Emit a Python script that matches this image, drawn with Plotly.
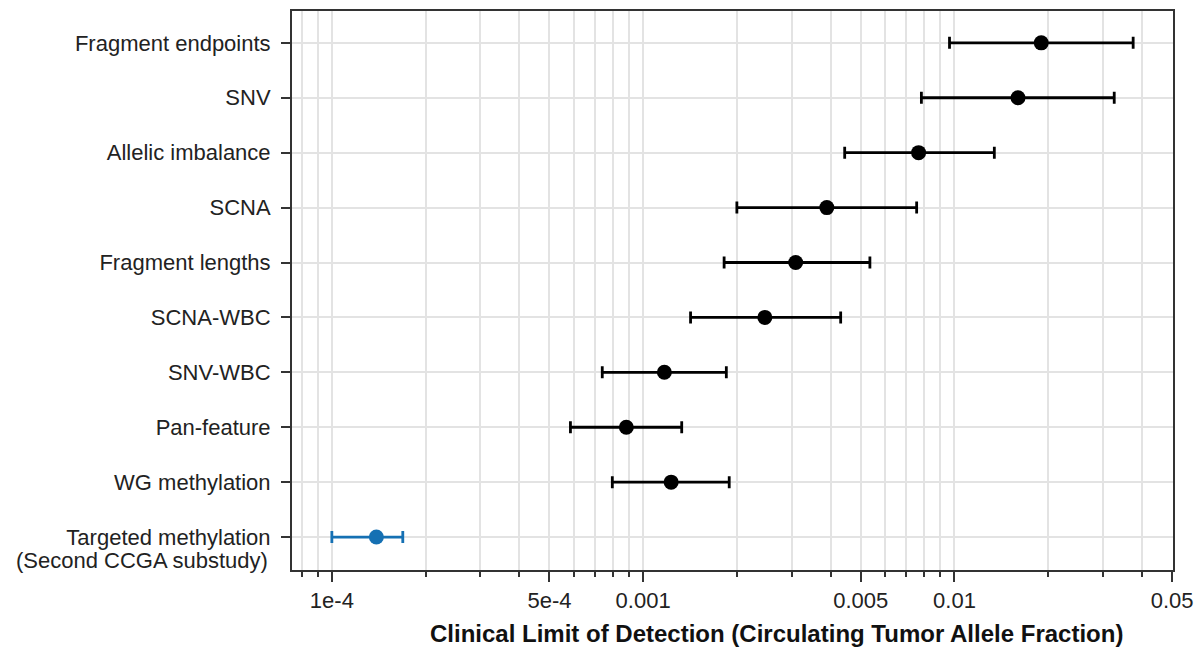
import plotly.graph_objects as go

categories = ["Fragment endpoints", "SNV", "Allelic imbalance", "SCNA", "Fragment lengths",
              "SCNA-WBC", "SNV-WBC", "Pan-feature", "WG methylation",
              "Targeted methylation<br>(Second CCGA substudy)"]
lod = [0.0190, 0.0160, 0.00767, 0.00389, 0.00309, 0.00246, 0.00117, 0.000883, 0.00123, 0.000139]
lower = [0.00964, 0.00783, 0.00444, 0.00200, 0.00182, 0.00142, 0.000739, 0.000584, 0.000796, 0.000100]
upper = [0.0375, 0.0326, 0.01343, 0.00756, 0.00535, 0.00431, 0.00185, 0.00133, 0.00189, 0.000169]

major_ticks = [1e-4, 5e-4, 0.001, 0.005, 0.01, 0.05]
major_text = ["1e-4", "5e-4", "0.001", "0.005", "0.01", "0.05"]
minor_ticks = [8e-5, 9e-5, 2e-4, 3e-4, 4e-4, 6e-4, 7e-4, 8e-4, 9e-4,
               0.002, 0.003, 0.004, 0.006, 0.007, 0.008, 0.009,
               0.02, 0.03, 0.04]
x_title = "Clinical Limit of Detection (Circulating Tumor Allele Fraction)"

ypos = list(range(len(categories)))
first_lines = [c.split("<br>")[0] for c in categories]
second_lines = [(i, c.split("<br>")[1]) for i, c in enumerate(categories) if "<br>" in c]

fig = go.Figure()
for group, color in [(range(0, 9), "black"), (range(9, 10), "#1570b3")]:
    idx = list(group)
    fig.add_trace(go.Scatter(
        x=[lod[i] for i in idx],
        y=[ypos[i] for i in idx],
        mode="markers",
        marker=dict(color=color, size=15),
        error_x=dict(type="data", symmetric=False,
                     array=[upper[i] - lod[i] for i in idx],
                     arrayminus=[lod[i] - lower[i] for i in idx],
                     color=color, thickness=2.8, width=6),
        showlegend=False,
    ))

font_family = "Liberation Sans, Arial, sans-serif"
for i, txt in second_lines:
    fig.add_annotation(x=0, xref="paper", y=ypos[i], yref="y", text=txt,
                       showarrow=False, xanchor="right", yanchor="middle",
                       xshift=-22, yshift=-23,
                       font=dict(family=font_family, size=22, color="#222"))

fig.add_annotation(x=0.5505, xref="paper", y=0, yref="paper", text="<b>" + x_title + "</b>",
                   showarrow=False, xanchor="center", yanchor="middle", yshift=-63,
                   font=dict(family=font_family, size=24, color="#111"))

fig.update_layout(
    width=1196, height=647,
    margin=dict(l=292, r=23, t=11, b=77),
    plot_bgcolor="white", paper_bgcolor="white",
    font=dict(family=font_family, size=22, color="#222"),
    xaxis=dict(
        type="log", range=[-4.128, -1.298], automargin=False,
        tickmode="array", tickvals=major_ticks, ticktext=major_text,
        ticks="outside", ticklen=10, tickwidth=2, tickcolor="#333",
        showgrid=True, gridcolor="#e3e3e3", gridwidth=1.5,
        minor=dict(tickmode="array", tickvals=minor_ticks, ticks="outside",
                   ticklen=5, tickwidth=2, tickcolor="#333",
                   showgrid=True, gridcolor="#e3e3e3", gridwidth=1.5),
        showline=True, linecolor="#333", linewidth=2, mirror=True,
        zeroline=False,
        tickfont=dict(size=22),
    ),
    yaxis=dict(
        range=[9.6, -0.58], automargin=False,
        tickmode="array", tickvals=ypos, ticktext=first_lines,
        ticks="outside", ticklen=9, tickwidth=2, tickcolor="#333",
        ticklabelstandoff=6,
        showgrid=True, gridcolor="#e3e3e3", gridwidth=1.5,
        showline=True, linecolor="#333", linewidth=2, mirror=True,
        zeroline=False,
        tickfont=dict(size=22),
    ),
)

fig.write_html("out.html", config={"displayModeBar": False},
               post_script="document.body.style.margin='0';document.body.style.overflow='hidden';")
